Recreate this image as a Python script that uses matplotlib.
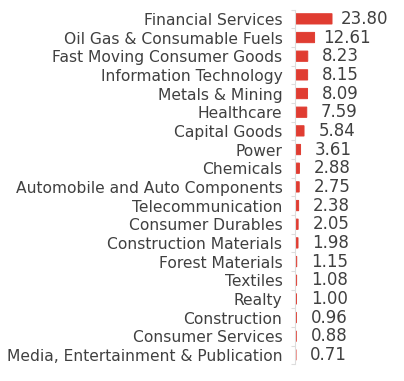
import numpy as np
import matplotlib
matplotlib.use('Agg')
import matplotlib.pyplot as plt

# -------------------------------------------------------------------------
# Data
# -------------------------------------------------------------------------
sectors = [
    "Financial Services",
    "Oil Gas & Consumable Fuels",
    "Fast Moving Consumer Goods",
    "Information Technology",
    "Metals & Mining",
    "Healthcare",
    "Capital Goods",
    "Power",
    "Chemicals",
    "Automobile and Auto Components",
    "Telecommunication",
    "Consumer Durables",
    "Construction Materials",
    "Forest Materials",
    "Textiles",
    "Realty",
    "Construction",
    "Consumer Services",
    "Media, Entertainment & Publication",
]
weights = [23.80, 12.61, 8.23, 8.15, 8.09, 7.59, 5.84, 3.61, 2.88, 2.75,
           2.38, 2.05, 1.98, 1.15, 1.08, 1.00, 0.96, 0.88, 0.71]

# -------------------------------------------------------------------------
# Plot
# -------------------------------------------------------------------------
plt.rcParams['font.family'] = ['DejaVu Sans']
text_color = "#404040"
bar_color = "#e03c31"

fig = plt.figure(figsize=(4.04, 3.81), dpi=100)
ax = fig.add_axes([0.730, 0.044, 0.270, 0.931])

y = np.arange(len(sectors))
ax.barh(y, weights, height=0.55, color=bar_color, edgecolor=bar_color,
        linewidth=0.7, snap=False)

for yi, w in zip(y, weights):
    ax.annotate(f"{w:.2f}", xy=(w, yi), xytext=(23.5, 0),
                textcoords="offset points", ha="center", va="center",
                fontsize=12, color=text_color)

ax.set_ylim(len(sectors) - 0.5, -0.5)
ax.set_xlim(0, 70)

ax.set_yticks(y)
ax.set_yticklabels(sectors, fontsize=11.2, color=text_color)
ax.set_yticks(np.arange(len(sectors) + 1) - 0.5, minor=True)
ax.tick_params(axis="y", which="major", length=0, pad=9)
ax.tick_params(axis="y", which="minor", length=3, color="#dddddd", width=0.8)
ax.set_xticks([])

for side in ["top", "right", "bottom"]:
    ax.spines[side].set_visible(False)
ax.spines["left"].set_color("#dddddd")
ax.spines["left"].set_linewidth(0.8)

plt.savefig("out.png", dpi=100)
plt.close()
